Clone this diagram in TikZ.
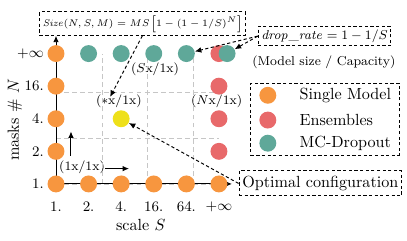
\documentclass[tikz,border=0pt]{standalone}
\usetikzlibrary{arrows.meta,positioning,calc}
\definecolor{singlecol}{HTML}{F7963F}
\definecolor{enscol}{HTML}{E8696A}
\definecolor{mccol}{HTML}{5FA899}
\definecolor{optcol}{HTML}{EEE01A}
\newcommand{\bigbrack}[1]{\raisebox{-1pt}{\fontsize{10.5}{10.5}\selectfont#1}}

\begin{document}
\begin{tikzpicture}[
    x=0.71cm, y=0.71cm,
    dot/.style={circle, minimum size=10.5pt, inner sep=0pt},
    box/.style={draw, semithick, dash pattern=on 2pt off 1.5pt, inner sep=2pt},
    gridline/.style={gray!45, densely dashed},
    axis/.style={semithick, -{Latex[length=4pt,width=3.5pt]}},
    link/.style={semithick, dash pattern=on 2pt off 1.5pt, -{Latex[length=4pt,width=3.5pt]}},
    lbl/.style={font=\footnotesize},
    tick/.style={font=\small}
]
\useasboundingbox (-1.718,-1.748) rectangle (10.77,5.644);

% boxes and texts
\node[box, minimum width=122pt, text height=7pt, text depth=3.5pt, inner ysep=2pt, inner xsep=2pt, font=\fontsize{6.3}{7.5}\selectfont] (size) at (2.65,4.92) {$\mathit{Size}(N,S,M) = MS$\,\bigbrack{[}$1-(1-1/S)^N$\bigbrack{]}};
\node[box, minimum width=77pt, minimum height=11pt, font=\footnotesize] (drop) at (8.24,4.535) {$\mathit{drop\_rate} = 1 - 1/S$};
\node[lbl] (capa) at (8.22,3.74) {(Model size / Capacity)};
\node[box, minimum width=97pt, minimum height=15.5pt] (opt) at (8.11,0.015) {Optimal configuration};
\node[box, minimum width=92pt, minimum height=44.6pt] (legend) at (8.25,1.99) {};

\node[lbl] (lsx) at (3.04,3.53) {($S$x/1x)};
\node[lbl] (lstar) at (1.93,2.55) {($\ast$x/1x)};
\node[lbl] (lnx) at (4.93,2.55) {($N$x/1x)};
\node[lbl] (lone) at (0.8,0.5) {(1x/1x)};

\node[rotate=90] (ylab) at (-1.26,1.96) {masks \# $N$};
\node (xlab) at (2.6,-1.26) {scale $S$};

% ticks
\node[tick] (sx1) at (0,-0.7) {1.};
\node[tick] (sx2) at (1,-0.7) {2.};
\node[tick] (sx4) at (2,-0.7) {4.};
\node[tick] (sx16) at (3,-0.7) {16.};
\node[tick] (sx64) at (4,-0.7) {64.};
\node[tick] (sxinf) at (5,-0.7) {$+\infty$};
\node[tick, anchor=east] (my1) at (-0.2,0) {1.};
\node[tick, anchor=east] (my2) at (-0.2,1) {2.};
\node[tick, anchor=east] (my4) at (-0.2,2) {4.};
\node[tick, anchor=east] (my16) at (-0.2,3) {16.};
\node[tick, anchor=east] (myinf) at (-0.2,4) {$+\infty$};

% grid and axes
\coordinate (orig) at (0,0);
\coordinate (xend) at (5.4,0);
\draw[gridline] (0,0) grid (5,4);
\draw[axis] (orig) -- (orig |- size.south);
\draw[axis] (orig) -- (xend);

% configurations
\node[dot, fill=singlecol] (c00) at (0,0) {};
\node[dot, fill=singlecol] (c01) at (0,1) {};
\node[dot, fill=singlecol] (c02) at (0,2) {};
\node[dot, fill=singlecol] (c03) at (0,3) {};
\node[dot, fill=singlecol] (c04) at (0,4) {};
\node[dot, fill=singlecol] (c10) at (1,0) {};
\node[dot, fill=singlecol] (c20) at (2,0) {};
\node[dot, fill=singlecol] (c30) at (3,0) {};
\node[dot, fill=singlecol] (c40) at (4,0) {};
\node[dot, fill=singlecol] (c50) at (5,0) {};
\node[dot, fill=enscol] (c51) at (5,1) {};
\node[dot, fill=enscol] (c52) at (5,2) {};
\node[dot, fill=enscol] (c53) at (5,3) {};
\node[dot, fill=enscol] (c54) at (5,4) {};
\node[dot, fill=mccol] (c14) at (1,4) {};
\node[dot, fill=mccol] (c24) at (2,4) {};
\node[dot, fill=mccol] (c34) at (3,4) {};
\node[dot, fill=mccol] (c44) at (4,4) {};
\node[dot, fill=mccol] (c54m) at (5.25,4) {};
\node[dot, fill=optcol] (c22) at (2,2) {};

% legend entries
\node[dot, fill=singlecol] (kone) at (6.5,2.72) {};
\node[dot, fill=enscol] (kens) at (6.5,1.96) {};
\node[dot, fill=mccol] (kmc) at (6.5,1.25) {};
\node[anchor=west] (tone) at (7.3,2.72) {Single Model};
\node[anchor=west] (tens) at (7.3,1.96) {Ensembles};
\node[anchor=west] (tmc) at (7.3,1.25) {MC-Dropout};

% pointers
\coordinate (starin) at (1.66,2.67);
\coordinate (upa) at (0.46,0.87);
\coordinate (upb) at (0.46,1.61);
\coordinate (rta) at (1.5,0.47);
\coordinate (rtb) at (2.24,0.47);
\draw[axis] (upa) -- (upb);
\draw[axis] (rta) -- (rtb);
\draw[link] (size.south) -- (starin);
\draw[link] (drop.west) -- (c44);
\draw[link] (drop.west) -- (c54m);
\draw[link] (opt.west) -- (c22);
\end{tikzpicture}
\end{document}
